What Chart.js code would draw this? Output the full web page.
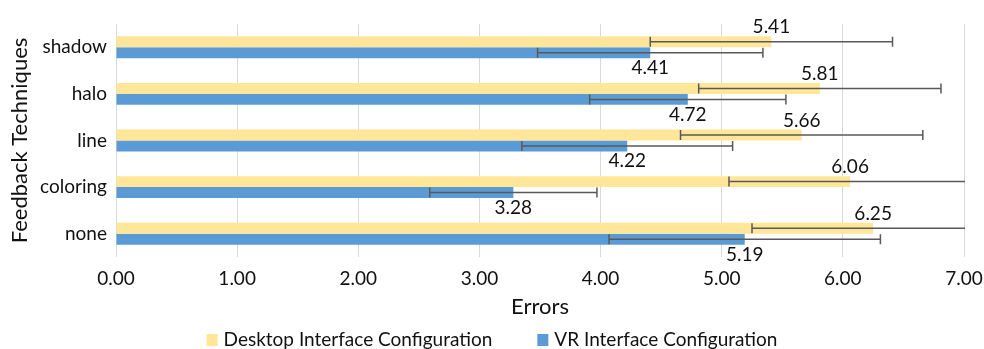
<!DOCTYPE html>
<html>
<head>
<meta charset="utf-8">
<script src="https://cdn.jsdelivr.net/npm/chart.js@4/dist/chart.umd.min.js"></script>
<style>
  html, body { margin: 0; padding: 0; background: #ffffff; overflow: hidden; }
  #chart { display: block; }
</style>
</head>
<body>
<canvas id="chart" width="984" height="349"></canvas>
<script>
// Feedback techniques and mean error counts per interface configuration
const categories = ['shadow', 'halo', 'line', 'coloring', 'none'];
const desktopMeans = [5.41, 5.81, 5.66, 6.06, 6.25];
const vrMeans = [4.41, 4.72, 4.22, 3.28, 5.19];
// Half-widths of the error bars
const desktopErrors = [1.00, 1.00, 1.00, 1.00, 1.00];
const vrErrors = [0.93, 0.81, 0.87, 0.69, 1.12];
// X-axis range and step
const xMin = 0;
const xMax = 7;
const xStep = 1;

const FONT = 'Lato';
const FONT_SIZE = 19;
const TITLE_SIZE = 22;
const TEXT_COLOR = '#111111';

Chart.defaults.font.family = FONT;
Chart.defaults.font.size = FONT_SIZE;
Chart.defaults.color = TEXT_COLOR;

// Symmetric error bars centred on each bar end, clipped to the plot area
const errorBars = {
  id: 'errorBars',
  afterDatasetsDraw(chart, args, opts) {
    const { ctx, chartArea, scales } = chart;
    const xs = scales.x;
    ctx.save();
    ctx.beginPath();
    ctx.rect(chartArea.left, chartArea.top, chartArea.right - chartArea.left + 1, chartArea.bottom - chartArea.top);
    ctx.clip();
    ctx.strokeStyle = opts.color;
    ctx.lineWidth = opts.lineWidth;
    chart.data.datasets.forEach((ds, di) => {
      const meta = chart.getDatasetMeta(di);
      const errs = opts.errors[di];
      meta.data.forEach((bar, i) => {
        const v = ds.data[i];
        const e = errs[i];
        const { y, height } = bar.getProps(['y', 'height'], true);
        const x0 = xs.getPixelForValue(v - e);
        const x1 = xs.getPixelForValue(v + e);
        const cap = Math.min(opts.capSize, height) / 2;
        ctx.beginPath();
        ctx.moveTo(x0, y);
        ctx.lineTo(x1, y);
        ctx.moveTo(x0, y - cap);
        ctx.lineTo(x0, y + cap);
        ctx.moveTo(x1, y - cap);
        ctx.lineTo(x1, y + cap);
        ctx.stroke();
      });
    });
    ctx.restore();
  }
};

// Value labels: first series above its bar, second series below
const valueLabels = {
  id: 'valueLabels',
  afterDatasetsDraw(chart, args, opts) {
    const { ctx } = chart;
    ctx.save();
    ctx.font = FONT_SIZE + 'px ' + FONT;
    ctx.fillStyle = TEXT_COLOR;
    ctx.textAlign = 'center';
    ctx.textBaseline = 'alphabetic';
    chart.data.datasets.forEach((ds, di) => {
      const meta = chart.getDatasetMeta(di);
      meta.data.forEach((bar, i) => {
        const { x, y, height } = bar.getProps(['x', 'y', 'height'], true);
        const text = ds.data[i].toFixed(2);
        if (di === 0) {
          ctx.fillText(text, x, y - height / 2 - opts.gapAbove);
        } else {
          ctx.fillText(text, x, y + height / 2 + opts.gapBelow);
        }
      });
    });
    ctx.restore();
  }
};

// Legend row centred along the bottom edge
const bottomLegend = {
  id: 'bottomLegend',
  afterDraw(chart, args, opts) {
    const { ctx, width } = chart;
    ctx.save();
    ctx.font = FONT_SIZE + 'px ' + FONT;
    ctx.textBaseline = 'middle';
    ctx.textAlign = 'left';
    const items = chart.data.datasets.map(ds => ({
      label: ds.label,
      color: ds.backgroundColor,
      w: ctx.measureText(ds.label).width
    }));
    let total = 0;
    items.forEach((it, k) => {
      total += opts.boxWidth + opts.boxGap + it.w;
      if (k > 0) total += opts.itemGap;
    });
    let x = (width - total) / 2;
    items.forEach(it => {
      ctx.fillStyle = it.color;
      ctx.fillRect(x, opts.y - opts.boxHeight / 2, opts.boxWidth, opts.boxHeight);
      ctx.fillStyle = TEXT_COLOR;
      ctx.fillText(it.label, x + opts.boxWidth + opts.boxGap, opts.y);
      x += opts.boxWidth + opts.boxGap + it.w + opts.itemGap;
    });
    ctx.restore();
  }
};

new Chart(document.getElementById('chart'), {
  type: 'bar',
  data: {
    labels: categories,
    datasets: [
      {
        label: 'Desktop Interface Configuration',
        data: desktopMeans,
        backgroundColor: '#FFE699',
        borderWidth: 0,
        categoryPercentage: 0.47,
        barPercentage: 1.0
      },
      {
        label: 'VR Interface Configuration',
        data: vrMeans,
        backgroundColor: '#5B9BD5',
        borderWidth: 0,
        categoryPercentage: 0.47,
        barPercentage: 1.0
      }
    ]
  },
  options: {
    indexAxis: 'y',
    responsive: false,
    animation: false,
    devicePixelRatio: 1,
    layout: { padding: { top: 24, right: 20, left: 0, bottom: 0 } },
    scales: {
      x: {
        min: xMin,
        max: xMax,
        afterFit(scale) {
          scale.height = 92;
          // the end labels may overhang the plot edges; the outer padding covers them
          scale.paddingLeft = 0;
          scale.paddingRight = 0;
        },
        ticks: {
          stepSize: xStep,
          padding: 10,
          color: TEXT_COLOR,
          callback: v => Number(v).toFixed(2)
        },
        grid: { color: '#D9D9D9', lineWidth: 1, drawTicks: false },
        border: { display: false },
        title: {
          display: true,
          text: 'Errors',
          color: TEXT_COLOR,
          font: { size: TITLE_SIZE },
          padding: { top: 0, bottom: 29 }
        }
      },
      y: {
        afterFit(scale) { scale.width = 116; },
        ticks: { padding: 9, color: TEXT_COLOR },
        grid: { display: false, drawTicks: false },
        border: { display: false },
        title: {
          display: true,
          text: 'Feedback Techniques',
          color: TEXT_COLOR,
          font: { size: TITLE_SIZE },
          padding: { top: 7, bottom: 0 }
        }
      }
    },
    plugins: {
      legend: { display: false },
      tooltip: { enabled: false },
      errorBars: { errors: [desktopErrors, vrErrors], color: '#595959', lineWidth: 1.5, capSize: 10 },
      valueLabels: { gapAbove: 3, gapBelow: 16 },
      bottomLegend: { y: 340, boxWidth: 11, boxHeight: 12, boxGap: 6, itemGap: 45 }
    }
  },
  plugins: [errorBars, valueLabels, bottomLegend]
});
</script>
</body>
</html>
